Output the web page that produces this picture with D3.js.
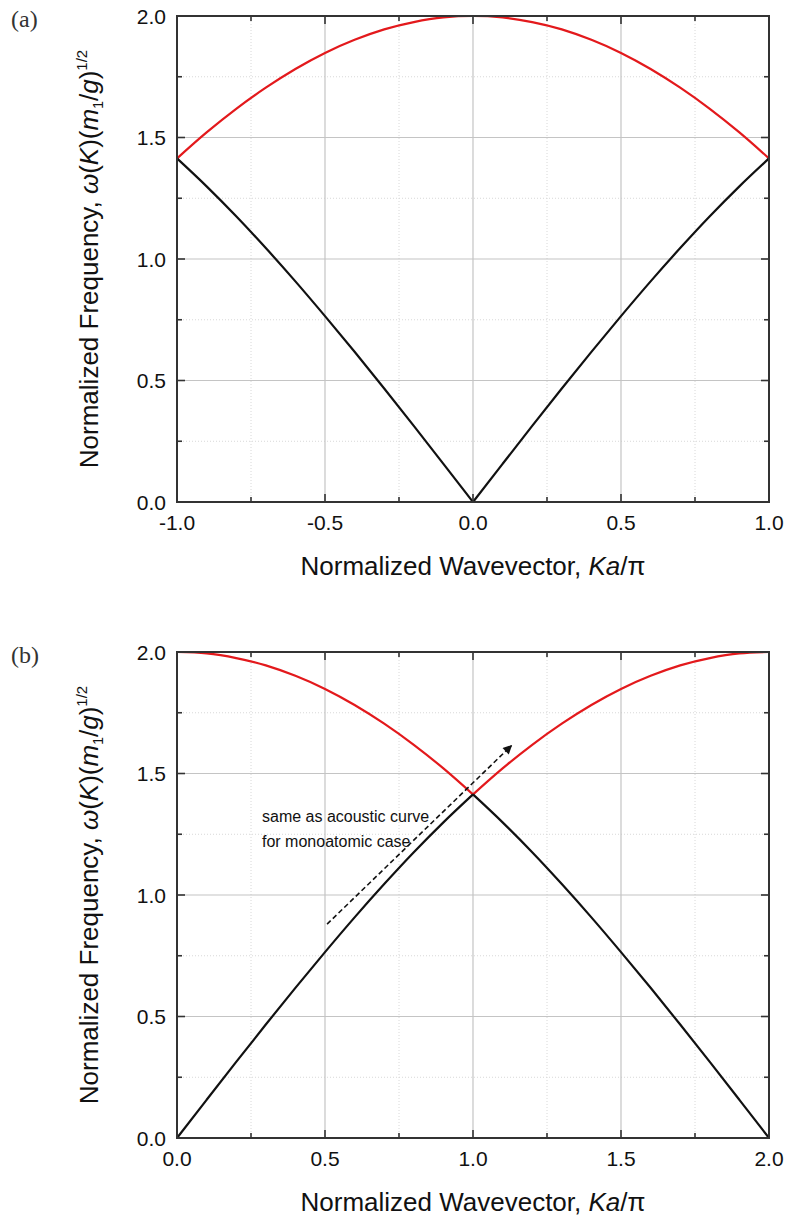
<!DOCTYPE html>
<html>
<head>
<meta charset="utf-8">
<script src="https://cdn.jsdelivr.net/npm/d3@7"></script>
<style>
  body { margin: 0; background: #fff; }
  svg { display: block; }
  .tick-label { font-family: "Liberation Sans", Arial, sans-serif; font-size: 21px; fill: #111; }
  .title { font-family: "Liberation Sans", Arial, sans-serif; font-size: 26px; fill: #111; }
  .note { font-family: "Liberation Sans", Arial, sans-serif; font-size: 16px; fill: #111; }
  .panel-tag { font-family: "Liberation Serif", "DejaVu Serif", serif; font-size: 24px; fill: #333; }
</style>
</head>
<body>
<div id="chart"></div>
<script>
// panel (a): reduced zone, K a / pi from -1 to 1
const waveA = [-1.0, -0.9, -0.8, -0.7, -0.6, -0.5, -0.4, -0.3, -0.2, -0.1, 0.0, 0.1, 0.2, 0.3, 0.4, 0.5, 0.6, 0.7, 0.8, 0.9, 1.0];
const acousticA = [1.414, 1.299, 1.176, 1.045, 0.908, 0.765, 0.618, 0.467, 0.313, 0.157, 0.0, 0.157, 0.313, 0.467, 0.618, 0.765, 0.908, 1.045, 1.176, 1.299, 1.414];
const opticalA = [1.414, 1.521, 1.618, 1.705, 1.782, 1.848, 1.902, 1.945, 1.975, 1.994, 2.0, 1.994, 1.975, 1.945, 1.902, 1.848, 1.782, 1.705, 1.618, 1.521, 1.414];
const cuspsA = { lower: [0.0], upper: [] };

// panel (b): extended zone, 0 to 2
const waveB = [0.0, 0.1, 0.2, 0.3, 0.4, 0.5, 0.6, 0.7, 0.8, 0.9, 1.0, 1.1, 1.2, 1.3, 1.4, 1.5, 1.6, 1.7, 1.8, 1.9, 2.0];
const lowerB = [0.0, 0.157, 0.313, 0.467, 0.618, 0.765, 0.908, 1.045, 1.176, 1.299, 1.414, 1.299, 1.176, 1.045, 0.908, 0.765, 0.618, 0.467, 0.313, 0.157, 0.0];
const upperB = [2.0, 1.994, 1.975, 1.945, 1.902, 1.848, 1.782, 1.705, 1.618, 1.521, 1.414, 1.521, 1.618, 1.705, 1.782, 1.848, 1.902, 1.945, 1.975, 1.994, 2.0];
const cuspsB = { lower: [1.0], upper: [1.0] };

const xTicksA = [-1.0, -0.5, 0.0, 0.5, 1.0];
const xTicksB = [0.0, 0.5, 1.0, 1.5, 2.0];
const yTicks = [0.0, 0.5, 1.0, 1.5, 2.0];

// dashed arrow in (b): [x, y] start and end in data units
const arrowB = [[0.507, 0.88], [1.13, 1.615]];
const noteLines = ["same as acoustic curve", "for monoatomic case"];

const width = 789;
const height = 1218;
const left = 177, right = 769;
const plotH = 486;

const svg = d3.select("#chart").append("svg")
  .attr("width", width)
  .attr("height", height);

svg.append("defs").append("marker")
  .attr("id", "head")
  .attr("viewBox", "0 0 10 10")
  .attr("refX", 9).attr("refY", 5)
  .attr("markerWidth", 11).attr("markerHeight", 9)
  .attr("markerUnits", "userSpaceOnUse")
  .attr("orient", "auto")
  .append("path")
  .attr("d", "M0,0L10,5L0,10Z")
  .attr("fill", "#111");

// split a series into branches at cusp positions so the smoothing keeps the corners
function branches(xs, ys, cusps) {
  const pts = xs.map((d, i) => [d, ys[i]]);
  const out = [];
  let cur = [];
  pts.forEach(p => {
    cur.push(p);
    if (cusps.some(c => Math.abs(c - p[0]) < 1e-9)) {
      out.push(cur);
      cur = [p];
    }
  });
  if (cur.length > 1) out.push(cur);
  return out;
}

function drawPanel(top, xDomain, xTicks, lower, upper, xs, cusps, tag) {
  const x = d3.scaleLinear().domain(xDomain).range([left, right]);
  const y = d3.scaleLinear().domain([0, 2]).range([top + plotH, top]);
  const g = svg.append("g");

  const step = (xDomain[1] - xDomain[0]) / 8;
  const xMinor = d3.range(9).map(i => xDomain[0] + i * step);
  const yMinor = d3.range(9).map(i => i * 0.25);

  // minor grid (dotted)
  g.append("g").selectAll("line").data(xMinor.filter((d, i) => i % 2 === 1)).enter().append("line")
    .attr("x1", d => x(d)).attr("x2", d => x(d)).attr("y1", y(0)).attr("y2", y(2))
    .attr("stroke", "#d8d8d8").attr("stroke-dasharray", "1,2");
  g.append("g").selectAll("line").data(yMinor.filter((d, i) => i % 2 === 1)).enter().append("line")
    .attr("y1", d => y(d)).attr("y2", d => y(d)).attr("x1", left).attr("x2", right)
    .attr("stroke", "#d8d8d8").attr("stroke-dasharray", "1,2");
  // major grid
  g.append("g").selectAll("line").data(xTicks).enter().append("line")
    .attr("x1", d => x(d)).attr("x2", d => x(d)).attr("y1", y(0)).attr("y2", y(2))
    .attr("stroke", "#c4c4c4").attr("stroke-width", 1.2);
  g.append("g").selectAll("line").data(yTicks).enter().append("line")
    .attr("y1", d => y(d)).attr("y2", d => y(d)).attr("x1", left).attr("x2", right)
    .attr("stroke", "#c4c4c4").attr("stroke-width", 1.2);

  // curves
  const line = d3.line().x(d => x(d[0])).y(d => y(d[1])).curve(d3.curveMonotoneX);
  g.append("g").selectAll("path").data(branches(xs, upper, cusps.upper)).enter().append("path")
    .attr("d", line)
    .attr("fill", "none").attr("stroke", "#e3191c").attr("stroke-width", 2.2);
  g.append("g").selectAll("path").data(branches(xs, lower, cusps.lower)).enter().append("path")
    .attr("d", line)
    .attr("fill", "none").attr("stroke", "#111").attr("stroke-width", 2.2);

  // inward ticks on all four sides
  const tickMajor = 8, tickMinor = 5;
  const tk = g.append("g");
  xMinor.forEach((d, i) => {
    const len = i % 2 === 0 ? tickMajor : tickMinor;
    tk.append("line").attr("x1", x(d)).attr("x2", x(d)).attr("y1", y(0)).attr("y2", y(0) - len);
    tk.append("line").attr("x1", x(d)).attr("x2", x(d)).attr("y1", y(2)).attr("y2", y(2) + len);
  });
  yMinor.forEach((d, i) => {
    const len = i % 2 === 0 ? tickMajor : tickMinor;
    tk.append("line").attr("y1", y(d)).attr("y2", y(d)).attr("x1", left).attr("x2", left + len);
    tk.append("line").attr("y1", y(d)).attr("y2", y(d)).attr("x1", right).attr("x2", right - len);
  });
  tk.selectAll("line").attr("stroke", "#333").attr("stroke-width", 1.6);

  // frame
  g.append("rect").attr("x", left).attr("y", top).attr("width", right - left).attr("height", plotH)
    .attr("fill", "none").attr("stroke", "#333").attr("stroke-width", 2);

  // tick labels
  g.append("g").selectAll("text").data(xTicks).enter().append("text")
    .attr("class", "tick-label").attr("text-anchor", "middle")
    .attr("x", d => x(d)).attr("y", y(0) + 28)
    .text(d => d3.format(".1f")(d).replace("−", "-"));
  g.append("g").selectAll("text").data(yTicks).enter().append("text")
    .attr("class", "tick-label").attr("text-anchor", "end")
    .attr("x", left - 11).attr("y", d => y(d)).attr("dy", "0.36em")
    .text(d => d3.format(".1f")(d));

  // x title
  const xl = g.append("text").attr("class", "title").attr("text-anchor", "middle")
    .attr("x", (left + right) / 2).attr("y", y(0) + 73);
  xl.append("tspan").text("Normalized Wavevector, ");
  xl.append("tspan").attr("font-style", "italic").text("Ka");
  xl.append("tspan").text("/π");

  // y title
  const yl = g.append("text").attr("class", "title").attr("text-anchor", "middle")
    .attr("transform", "translate(98," + (top + plotH / 2) + ") rotate(-90)");
  yl.append("tspan").text("Normalized Frequency, ");
  yl.append("tspan").attr("font-style", "italic").text("ω");
  yl.append("tspan").text("(");
  yl.append("tspan").attr("font-style", "italic").text("K");
  yl.append("tspan").text(")(");
  yl.append("tspan").attr("font-style", "italic").text("m");
  yl.append("tspan").attr("font-size", "14px").attr("dy", 5).text("1");
  yl.append("tspan").attr("dy", -5).text("/");
  yl.append("tspan").attr("font-style", "italic").text("g");
  yl.append("tspan").text(")");
  yl.append("tspan").attr("font-size", "15px").attr("dy", -11).text("1/2");

  g.append("text").attr("class", "panel-tag").attr("x", 11).attr("y", top + 11).text(tag);

  return { g, x, y };
}

drawPanel(16, [-1, 1], xTicksA, acousticA, opticalA, waveA, cuspsA, "(a)");
const pb = drawPanel(652, [0, 2], xTicksB, lowerB, upperB, waveB, cuspsB, "(b)");

pb.g.append("line")
  .attr("x1", pb.x(arrowB[0][0])).attr("y1", pb.y(arrowB[0][1]))
  .attr("x2", pb.x(arrowB[1][0])).attr("y2", pb.y(arrowB[1][1]))
  .attr("stroke", "#111").attr("stroke-width", 1.6)
  .attr("stroke-dasharray", "5,3")
  .attr("marker-end", "url(#head)");

pb.g.append("g").selectAll("text").data(noteLines).enter().append("text")
  .attr("class", "note")
  .attr("x", 262).attr("y", (d, i) => 822 + i * 25)
  .text(d => d);
</script>
</body>
</html>
